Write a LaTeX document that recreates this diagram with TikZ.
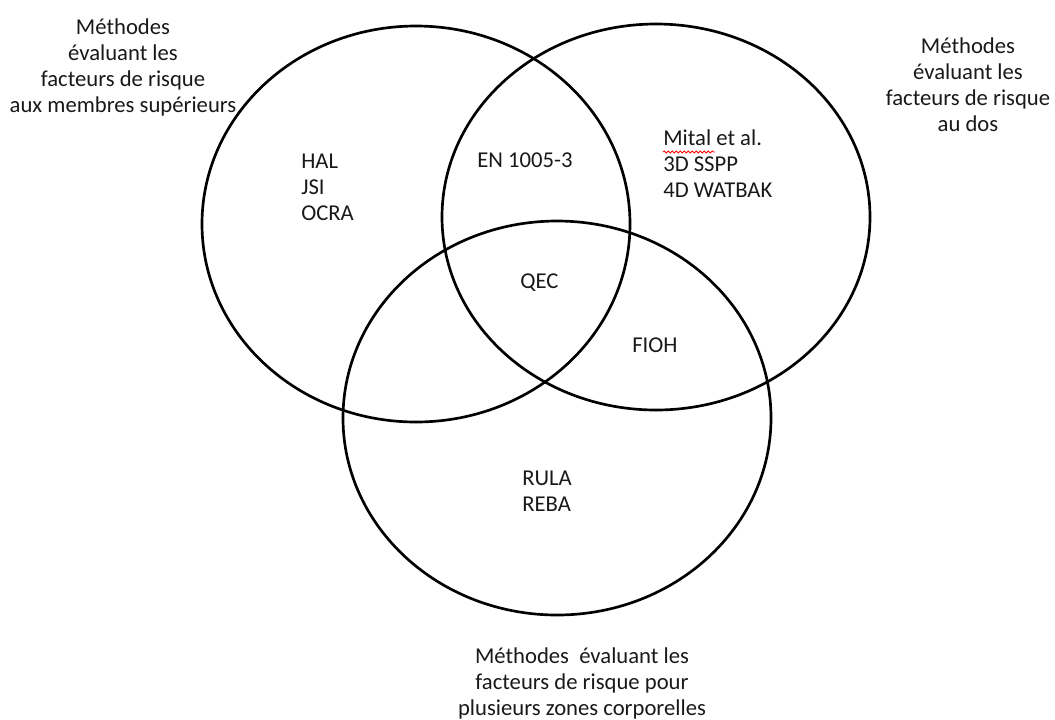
\documentclass[tikz,border=0pt]{standalone}
\usepackage{fontspec}
\setmainfont{Carlito}
\usetikzlibrary{decorations.pathmorphing}
\tikzset{
  venn/.style={draw=black, line width=2pt},
  lbl/.style={text=black!90, font=\fontsize{17}{19.5}\selectfont, inner sep=0pt},
  grp/.style={lbl, align=center},
  lst/.style={lbl, align=left, anchor=west},
  squig/.style={draw=red, line width=0.6pt, decorate, decoration={snake, amplitude=0.8pt, segment length=3pt}}
}
\begin{document}
\begin{tikzpicture}[x=0.75pt, y=-0.75pt]
\useasboundingbox (0,0) rectangle (1055,719);
\coordinate (cl) at (416,224);
\coordinate (cr) at (656,217);
\coordinate (cb) at (557,418);
\draw[venn] (cl) ellipse [x radius=214, y radius=198];
\draw[venn] (cr) ellipse [x radius=214, y radius=193];
\draw[venn] (cb) ellipse [x radius=214, y radius=197];

\node[grp] (tl) at (123,67) {Méthodes\\évaluant les\\facteurs de risque\\aux membres supérieurs};
\node[grp] (tr) at (968,85) {Méthodes\\évaluant les\\facteurs de risque\\au dos};
\node[grp] (bt) at (582,683) {Méthodes\ \ évaluant les\\facteurs de risque pour\\plusieurs zones corporelles};

\node[lst] (hal) at (301,187) {HAL\\JSI\\OCRA};
\node[lst] (en) at (477,160) {EN 1005-3};
\node[lst] (mital) at (663,164) {Mital et al.\\3D SSPP\\4D WATBAK};
\node[lst] (qec) at (520,283) {QEC};
\node[lst] (fioh) at (632,345) {FIOH};
\node[lst] (rula) at (522,491) {RULA\\REBA};

\coordinate (sq1) at (663,152);
\coordinate (sq2) at (715,152);
\draw[squig] (sq1) -- (sq2);
\end{tikzpicture}
\end{document}
